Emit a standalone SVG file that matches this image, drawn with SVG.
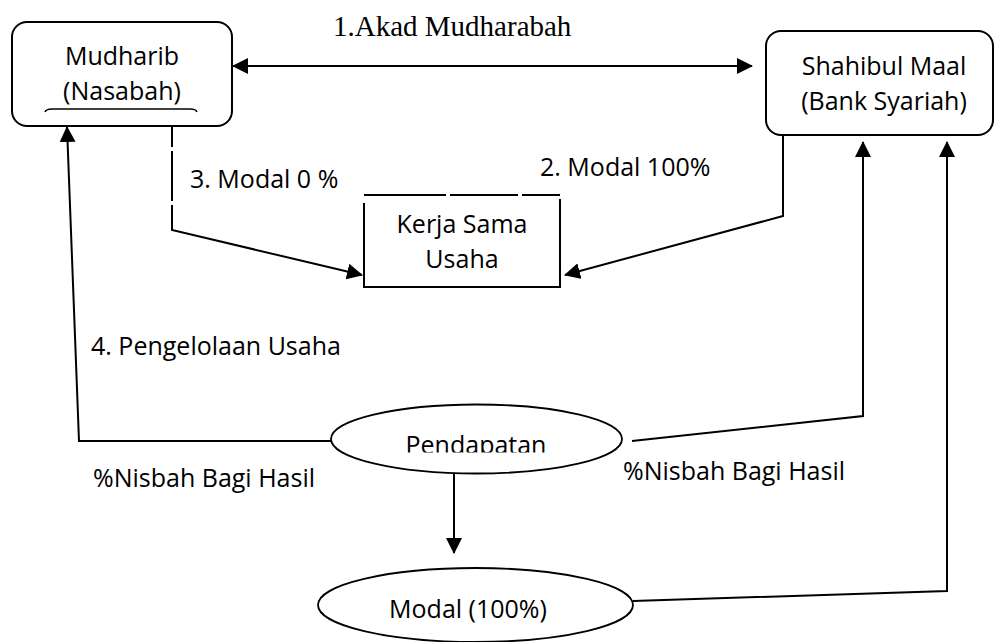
<svg xmlns="http://www.w3.org/2000/svg" width="1008" height="642" viewBox="0 0 1008 642">
<style>
.box{fill:#fff;stroke:#000;stroke-width:2}
.ell{fill:#fff;stroke:#000;stroke-width:1.8}
.ln{fill:none;stroke:#000;stroke-width:2}
.t{font-family:"Open Sans","Liberation Sans",sans-serif;font-size:25px;fill:#000}
.tc{font-family:"Open Sans","Liberation Sans",sans-serif;font-size:25px;fill:#000;text-anchor:middle}
.ts{font-family:"Liberation Serif","Times New Roman",serif;font-size:29px;fill:#000}
</style>
<defs>
<marker id="ah" markerUnits="userSpaceOnUse" markerWidth="16" markerHeight="16" refX="15" refY="8" orient="auto-start-reverse" viewBox="0 0 16 16">
<path d="M0,0 L16,8 L0,16 z" fill="#000"/>
</marker>
<clipPath id="clipP"><rect x="0" y="0" width="1008" height="452.5"/></clipPath>
</defs>
<rect width="1008" height="642" fill="#fff"/>

<g id="connectors">
<line class="ln" x1="233" y1="66" x2="752" y2="66" marker-start="url(#ah)" marker-end="url(#ah)"/>
<path class="ln" d="M172,126 L172,147 M172,151 L172,201 M172,205 L172,230 L362,275" marker-end="url(#ah)"/>
<path class="ln" d="M783,135 L783,216 L565,275" marker-end="url(#ah)"/>
<path class="ln" d="M331,441 L79,441 L67,127" marker-end="url(#ah)"/>
<path class="ln" d="M632,441 L863,416 L863,142" marker-end="url(#ah)"/>
<path class="ln" d="M633,601 L947,591 L947,142" marker-end="url(#ah)"/>
<path class="ln" d="M454,473 L454,553" marker-end="url(#ah)"/>
</g>

<g id="mudharib">
<rect class="box" x="12" y="22" width="220" height="104" rx="15"/>
<text class="tc" x="122" y="65">Mudharib</text>
<text class="tc" x="122" y="100">(Nasabah)</text>
<path d="M45,112 Q46,109 52,109 L190,109 Q196,109 197,112" fill="none" stroke="#000" stroke-width="1.5"/>
</g>

<g id="shahibul">
<rect class="box" x="766" y="31" width="227" height="104" rx="15"/>
<text class="tc" x="884" y="75">Shahibul Maal</text>
<text class="tc" x="884" y="110">(Bank Syariah)</text>
</g>

<g id="kerjasama">
<rect x="364" y="195" width="196" height="92" fill="#fff"/>
<path class="ln" d="M364,195 L446,195 M450,195 L518,195 M522,195 L560,195 M560,199 L560,287 L364,287 L364,203"/>
<text class="tc" x="462" y="233">Kerja Sama</text>
<text class="tc" x="462" y="268">Usaha</text>
</g>

<g id="pendapatan">
<ellipse class="ell" cx="476.5" cy="439" rx="145.5" ry="34.5"/>
<text class="tc" x="476" y="454" clip-path="url(#clipP)">Pendapatan</text>
</g>

<g id="modal">
<ellipse class="ell" cx="475.5" cy="605" rx="157.5" ry="37"/>
<text class="tc" x="468" y="618">Modal (100%)</text>
</g>

<g id="labels">
<text class="ts" x="333" y="36">1.Akad Mudharabah</text>
<text class="t" x="190" y="188">3. Modal 0 %</text>
<text class="t" x="540" y="176">2. Modal 100%</text>
<text class="t" x="91" y="355">4. Pengelolaan Usaha</text>
<text class="t" x="93" y="487">%Nisbah Bagi Hasil</text>
<text class="t" x="623" y="480">%Nisbah Bagi Hasil</text>
</g>
</svg>
